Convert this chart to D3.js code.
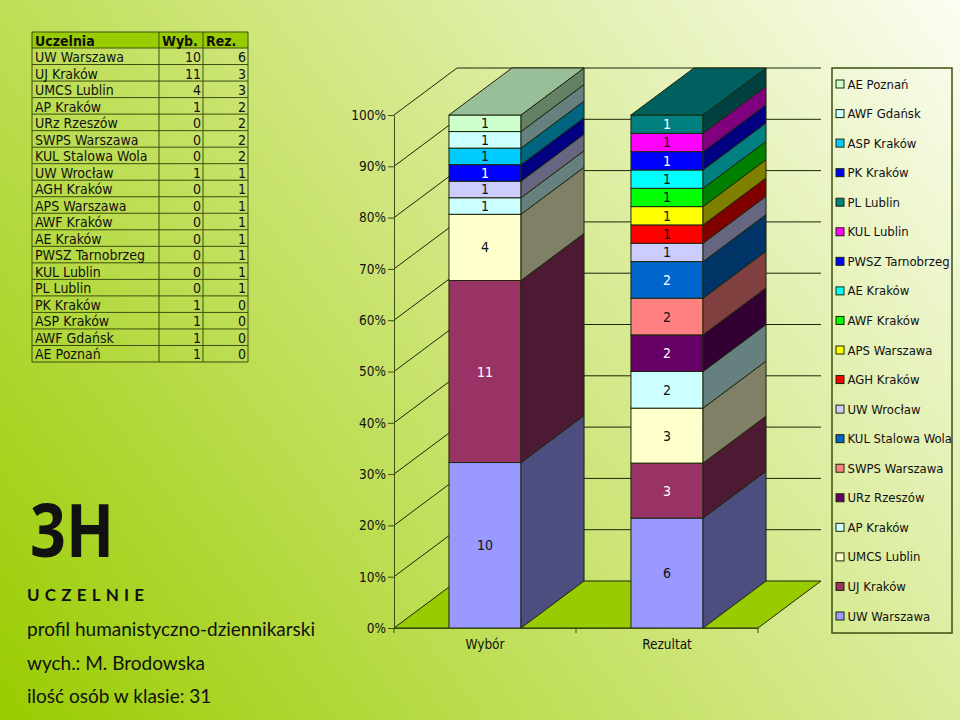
<!DOCTYPE html>
<html>
<head>
<meta charset="utf-8">
<script src="https://cdn.jsdelivr.net/npm/d3@7"></script>
<style>
  html, body { margin: 0; padding: 0; }
  svg { display: block; }
  text { font-family: "DejaVu Sans Condensed", "DejaVu Sans", sans-serif; fill: #111; }
  .side-text { font-family: "Lato", "Noto Sans", sans-serif; }
</style>
</head>
<body>
<div id="chart"></div>
<script>
const schools = ["UW Warszawa", "UJ Kraków", "UMCS Lublin", "AP Kraków", "URz Rzeszów", "SWPS Warszawa",
  "KUL Stalowa Wola", "UW Wrocław", "AGH Kraków", "APS Warszawa", "AWF Kraków", "AE Kraków",
  "PWSZ Tarnobrzeg", "KUL Lublin", "PL Lublin", "PK Kraków", "ASP Kraków", "AWF Gdańsk", "AE Poznań"];
const wybor = [10, 11, 4, 1, 0, 0, 0, 1, 0, 0, 0, 0, 0, 0, 0, 1, 1, 1, 1];
const rezultat = [6, 3, 3, 2, 2, 2, 2, 1, 1, 1, 1, 1, 1, 1, 1, 0, 0, 0, 0];
const colors = ["#9999ff", "#993366", "#ffffcc", "#ccffff", "#660066", "#ff8080", "#0066cc", "#ccccff",
  "#ff0000", "#ffff00", "#00ff00", "#00ffff", "#0000ff", "#ff00ff", "#008080", "#0000ff", "#00ccff", "#ccffff", "#ccffcc"];
const groups = ["Wybór", "Rezultat"];
const values = [wybor, rezultat];
const yTicks = [0, 0.1, 0.2, 0.3, 0.4, 0.5, 0.6, 0.7, 0.8, 0.9, 1];
const tableHead = ["Uczelnia", "Wyb.", "Rez."];
const sideLines = ["profil humanistyczno-dziennikarski", "wych.: M. Brodowska", "ilość osób w klasie: 31"];

const width = 960;
const height = 720;
const lineColor = "#1c2608";
const axisColor = "#3c4f10";

const svg = d3.select("#chart").append("svg").attr("width", width).attr("height", height);

// background
const grad = svg.append("defs").append("linearGradient")
  .attr("id", "bg")
  .attr("gradientUnits", "userSpaceOnUse")
  .attr("x1", 0).attr("y1", 720).attr("x2", 960).attr("y2", 0);
grad.append("stop").attr("offset", "0%").attr("stop-color", "#99cc00");
grad.append("stop").attr("offset", "50%").attr("stop-color", "#cde578");
grad.append("stop").attr("offset", "100%").attr("stop-color", "#fbfdf2");
svg.append("rect").attr("width", width).attr("height", height).attr("fill", "url(#bg)");

// table
const tableCols = [32, 159, 203, 248];
const tableRows = d3.scaleLinear().domain([0, schools.length]).range([48, 362]);
const table = svg.append("g").attr("font-size", 14);
table.append("rect").attr("x", 32).attr("y", 32).attr("width", 216).attr("height", 16).attr("fill", "#99cc00");
tableCols.forEach(x => {
  table.append("line").attr("x1", x).attr("x2", x).attr("y1", 32).attr("y2", 362).attr("stroke", axisColor);
});
[32].concat(d3.range(schools.length + 1).map(tableRows)).forEach(y => {
  table.append("line").attr("x1", 32).attr("x2", 248).attr("y1", y).attr("y2", y).attr("stroke", axisColor);
});
table.selectAll(".head").data(tableHead).enter().append("text")
  .attr("x", (d, i) => tableCols[i] + 3)
  .attr("y", 46)
  .attr("font-weight", "bold")
  .text(d => d);
schools.forEach((s, i) => {
  const y = tableRows(i) + 14;
  table.append("text").attr("x", 35).attr("y", y).text(s);
  table.append("text").attr("x", 201).attr("y", y).attr("text-anchor", "end").text(wybor[i]);
  table.append("text").attr("x", 246).attr("y", y).attr("text-anchor", "end").text(rezultat[i]);
});

// left side text
svg.append("text").attr("x", 30).attr("y", 557)
  .style("font-family", "'Noto Sans', sans-serif")
  .attr("font-size", 73).attr("font-weight", "bold")
  .attr("textLength", 84).attr("lengthAdjust", "spacingAndGlyphs")
  .text("3H");
svg.append("text").attr("class", "side-text").attr("x", 27).attr("y", 601)
  .attr("font-size", 17).attr("font-weight", "bold").attr("letter-spacing", 5.2).text("UCZELNIE");
svg.selectAll(".side").data(sideLines).enter().append("text")
  .attr("class", "side-text")
  .attr("x", 27)
  .attr("y", (d, i) => [636, 670, 703][i])
  .attr("font-size", 19)
  .text(d => d);

// chart
const depthX = 63;
const depthY = -47;
const x = d3.scaleBand().domain(groups).range([394, 758]).paddingInner(0.604).paddingOuter(0.302);
const y = d3.scaleLinear().domain([0, 1]).range([628, 115]);
const plot = svg.append("g").attr("font-size", 13);

// floor
plot.append("polygon")
  .attr("points", [[394, y(0)], [758, y(0)], [758 + depthX, y(0) + depthY], [394 + depthX, y(0) + depthY]].join(" "))
  .attr("fill", "#99cc00")
  .attr("stroke", lineColor);

// gridlines on the walls
yTicks.slice(1).forEach(t => {
  plot.append("polyline")
    .attr("points", [[394, y(t)], [394 + depthX, y(t) + depthY], [758 + depthX, y(t) + depthY]].join(" "))
    .attr("fill", "none")
    .attr("stroke", lineColor);
});

// stacked bars, drawn from the bottom up
const rows = groups.map((g, i) => {
  const row = { group: g };
  schools.forEach((s, j) => { row[s] = values[i][j]; });
  return row;
});
const stack = d3.stack().keys(schools).offset(d3.stackOffsetExpand)(rows);

groups.forEach((g, gi) => {
  const bar = plot.append("g");
  const x0 = x(g);
  const x1 = x0 + x.bandwidth();
  let topSeg = null;
  stack.forEach((serie, si) => {
    const seg = serie[gi];
    const v = values[gi][si];
    if (v === 0) return;
    topSeg = { si, y1: y(seg[1]) };
    const c = d3.rgb(colors[si]);
    bar.append("rect")
      .attr("x", x0).attr("y", y(seg[1]))
      .attr("width", x.bandwidth()).attr("height", y(seg[0]) - y(seg[1]))
      .attr("fill", colors[si]).attr("stroke", lineColor);
    bar.append("polygon")
      .attr("points", [[x1, y(seg[0])], [x1 + depthX, y(seg[0]) + depthY], [x1 + depthX, y(seg[1]) + depthY], [x1, y(seg[1])]].join(" "))
      .attr("fill", d3.rgb(c.r * 0.5, c.g * 0.5, c.b * 0.5))
      .attr("stroke", lineColor);
    bar.append("text")
      .attr("x", (x0 + x1) / 2)
      .attr("y", (y(seg[0]) + y(seg[1])) / 2 + 5)
      .attr("text-anchor", "middle")
      .attr("font-size", 14)
      .style("fill", d3.lab(colors[si]).l < 50 ? "#fff" : "#111")
      .text(v);
  });
  const c = d3.rgb(colors[topSeg.si]);
  bar.append("polygon")
    .attr("points", [[x0, topSeg.y1], [x1, topSeg.y1], [x1 + depthX, topSeg.y1 + depthY], [x0 + depthX, topSeg.y1 + depthY]].join(" "))
    .attr("fill", d3.rgb(c.r * 0.75, c.g * 0.75, c.b * 0.75))
    .attr("stroke", lineColor);
});

// axes
const yAxis = plot.append("g").attr("transform", "translate(394,0)")
  .call(d3.axisLeft(y).tickValues(yTicks).tickFormat(d3.format(".0%")).tickSize(6).tickSizeOuter(0));
yAxis.selectAll("path, line").attr("stroke", axisColor);
yAxis.selectAll("text").attr("x", -8).attr("font-size", 13.5);

const xAxis = plot.append("g").attr("transform", `translate(0,${y(0)})`)
  .call(d3.axisBottom(x).tickSize(0).tickPadding(11));
xAxis.select("path").attr("stroke", axisColor);
xAxis.selectAll("text").attr("font-size", 13.5);
[394, 576, 758].forEach(t => {
  xAxis.append("line").attr("x1", t).attr("x2", t).attr("y1", 0).attr("y2", 5).attr("stroke", axisColor);
});

// legend
const legendOrder = schools.map((s, i) => i).reverse();
const legendY = d3.scalePoint().domain(legendOrder).range([84, 616]);
const legend = svg.append("g").attr("font-size", 13);
legend.append("rect").attr("x", 832).attr("y", 68).attr("width", 120).attr("height", 565)
  .attr("fill", "none").attr("stroke", axisColor).attr("stroke-width", 1.5);
legendOrder.forEach(i => {
  legend.append("rect").attr("x", 836).attr("y", legendY(i) - 4).attr("width", 8).attr("height", 8)
    .attr("fill", colors[i]).attr("stroke", lineColor);
  legend.append("text").attr("x", 847.5).attr("y", legendY(i) + 4.5).text(schools[i]);
});
</script>
</body>
</html>
